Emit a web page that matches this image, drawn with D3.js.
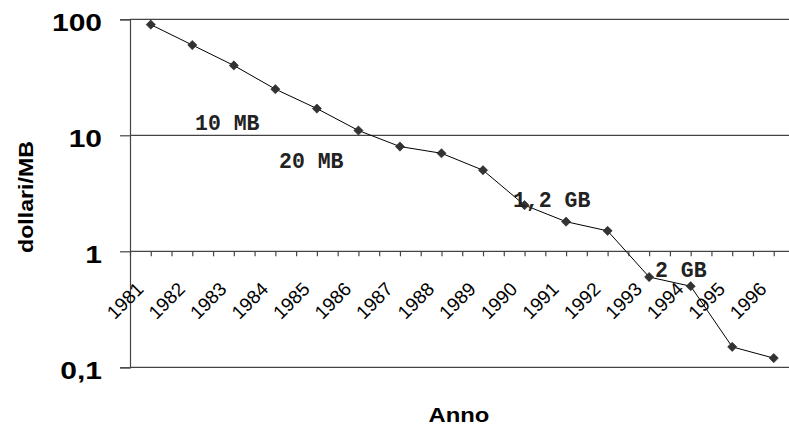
<!DOCTYPE html>
<html>
<head>
<meta charset="utf-8">
<script src="https://cdn.jsdelivr.net/npm/d3@7"></script>
<style>
  body { margin: 0; background: #fff; }
  svg { display: block; overflow: hidden; }
  .sans { font-family: "Liberation Sans", Arial, Helvetica, sans-serif; }
  .mono { font-family: "Liberation Mono", "Courier New", Courier, monospace; }
</style>
</head>
<body>
<div id="chart"></div>
<script>
// costo dello spazio su disco, dollari per MB (scala log)
var years = ["1981","1982","1983","1984","1985","1986","1987","1988",
             "1989","1990","1991","1992","1993","1994","1995","1996"];
var prices = [90, 60, 40, 25, 17, 11, 8, 7, 5, 2.5, 1.8, 1.5, 0.6, 0.5, 0.15, 0.12];
var yTicks = [0.1, 1, 10, 100];

// etichette delle capacità, posizione in unità categoria / valore
var noteText = ["10 MB", "20 MB", "1,2 GB", "2 GB"];
var notePos = [1.565, 3.588, 9.222, 12.64];
var noteVal = [11.1, 5.2, 2.41, 0.6];

function drawChart() {
  var W = 789, H = 427;
  var left = 130, right = 794.5, top = 19.3, bottom = 367.3;

  var svg = d3.select("#chart").append("svg")
      .attr("width", W)
      .attr("height", H);

  var x = d3.scaleBand()
      .domain(years)
      .range([left, right]);
  var xu = d3.scaleLinear()
      .domain([0, years.length])
      .range([left, right]);
  var y = d3.scaleLog()
      .domain([0.1, 100])
      .range([bottom, top]);

  var grid = "#444";

  // linee orizzontali
  svg.append("g")
    .selectAll("line")
    .data(yTicks)
    .join("line")
      .attr("x1", left)
      .attr("x2", W + 10)
      .attr("y1", d => y(d))
      .attr("y2", d => y(d))
      .attr("stroke", grid)
      .attr("stroke-width", 1.2);

  // asse y
  var yAxis = svg.append("g")
      .attr("transform", "translate(" + left + ",0)")
      .call(d3.axisLeft(y).tickValues(yTicks).tickSize(10).tickPadding(0)
        .tickFormat(d => String(d).replace(".", ",")));
  yAxis.attr("font-family", null).attr("font-size", null);
  yAxis.select(".domain").attr("stroke", grid).attr("stroke-width", 1.2);
  yAxis.selectAll(".tick line").attr("stroke", grid).attr("stroke-width", 1.2);
  yAxis.selectAll(".tick text")
      .attr("x", null).attr("dy", null)
      .attr("class", "sans")
      .attr("font-weight", "bold")
      .attr("font-size", 24)
      .attr("fill", "#000")
      .attr("text-anchor", "end")
      .attr("transform", "translate(-28,11) scale(1.25,1)");

  // asse x sulla linea del valore 1
  var halfTicks = d3.range(0, years.length + 0.5, 0.5);
  var xAxis = svg.append("g")
      .attr("transform", "translate(0," + y(1) + ")")
      .call(d3.axisBottom(xu).tickValues(halfTicks).tickSize(5).tickFormat(""));
  xAxis.select(".domain").remove();
  xAxis.selectAll(".tick line").attr("stroke", grid).attr("stroke-width", 1.2);

  // etichette anni ruotate
  svg.append("g")
    .selectAll("text")
    .data(years)
    .join("text")
      .attr("class", "sans")
      .attr("transform", d => "translate(" + (x(d) + x.bandwidth() / 2 - 6) + "," + (y(1) + 39) + ") rotate(-45)")
      .attr("text-anchor", "end")
      .attr("font-size", 19)
      .attr("fill", "#000")
      .text(d => d);

  // serie
  var pts = years.map((d, i) => [x(d) + x.bandwidth() / 2, y(prices[i])]);
  svg.append("path")
      .attr("d", d3.line()(pts))
      .attr("fill", "none")
      .attr("stroke", "#000")
      .attr("stroke-width", 1);

  svg.append("g")
    .selectAll("path")
    .data(pts)
    .join("path")
      .attr("d", "M0,-4.6L4.6,0L0,4.6L-4.6,0Z")
      .attr("transform", d => "translate(" + d[0] + "," + d[1] + ")")
      .attr("fill", "#333")
      .attr("stroke", "#222")
      .attr("stroke-width", 0.6);

  // note sulle capacità
  svg.append("g")
    .selectAll("text")
    .data(noteText)
    .join("text")
      .attr("class", "mono")
      .attr("x", (d, i) => xu(notePos[i]))
      .attr("y", (d, i) => y(noteVal[i]))
      .attr("font-weight", "bold")
      .attr("font-size", 21.5)
      .attr("fill", "#222")
      .attr("xml:space", "preserve")
      .text(d => d);

  // titoli assi
  svg.append("text")
      .attr("class", "sans")
      .attr("transform", "translate(33,197) rotate(-90) scale(1.16,1)")
      .attr("text-anchor", "middle")
      .attr("font-weight", "bold")
      .attr("font-size", 20)
      .attr("fill", "#000")
      .text("dollari/MB");

  svg.append("text")
      .attr("class", "sans")
      .attr("transform", "translate(459,422) scale(1.19,1)")
      .attr("text-anchor", "middle")
      .attr("font-weight", "bold")
      .attr("font-size", 20)
      .attr("fill", "#000")
      .text("Anno");
}

drawChart();
</script>
</body>
</html>
